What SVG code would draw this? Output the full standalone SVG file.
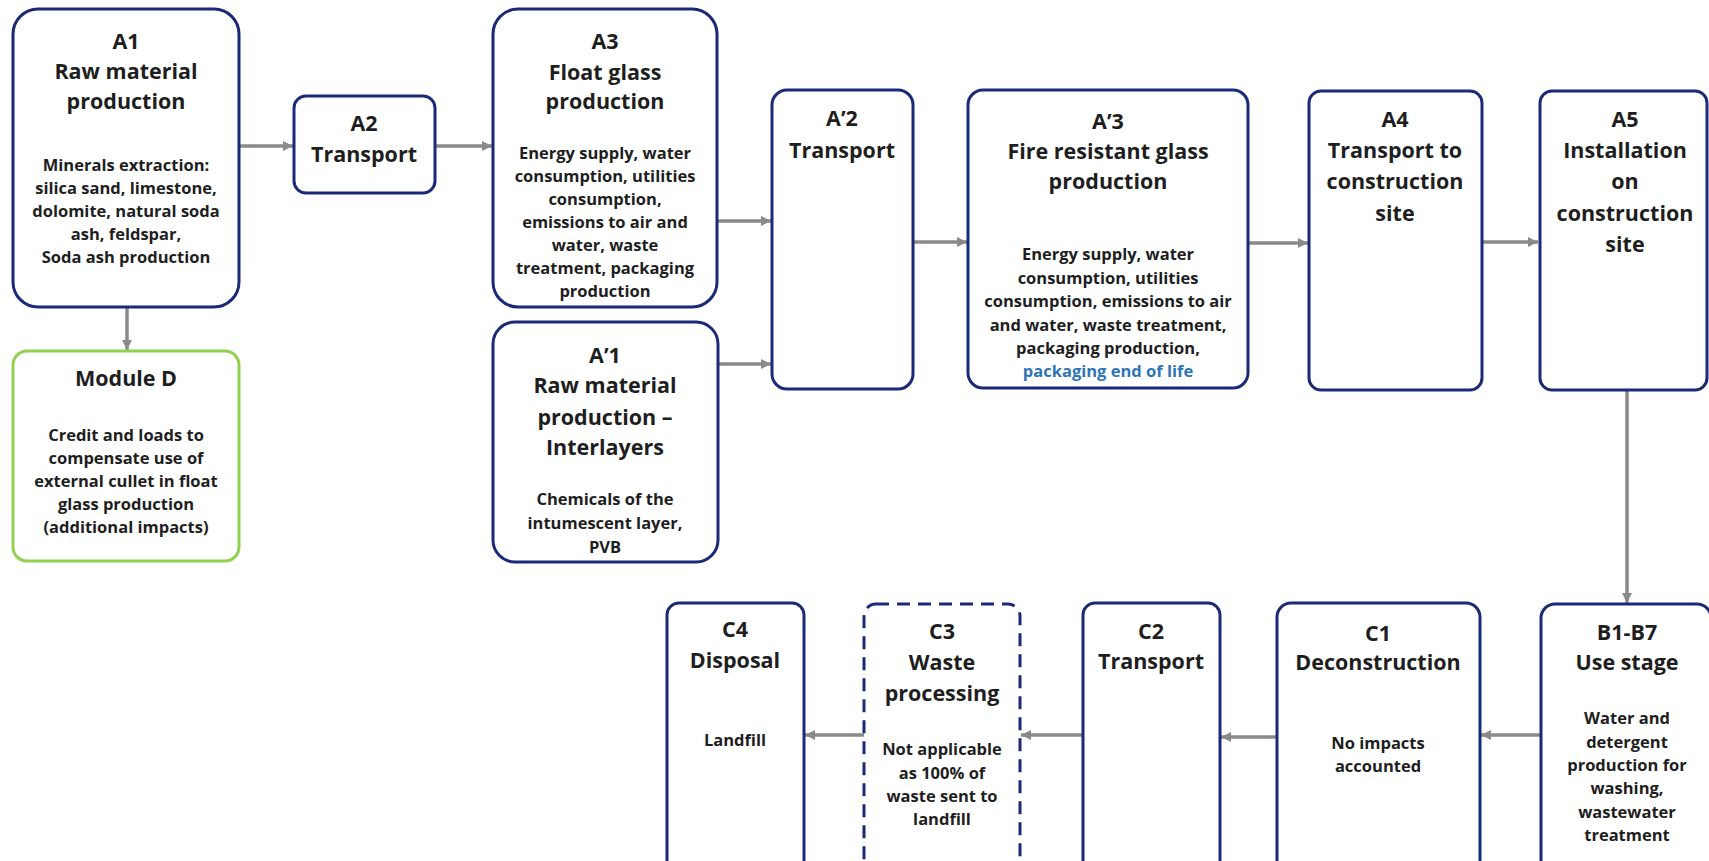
<svg xmlns="http://www.w3.org/2000/svg" width="1709" height="861" viewBox="0 0 1709 861">
<style>
.box{fill:#fff;stroke:#1B2A78;stroke-width:3}
.green{fill:#fff;stroke:#92D050;stroke-width:3}
.dash{fill:#fff;stroke:#1B2A78;stroke-width:3;stroke-dasharray:13 8}
text{font-family:"Open Sans","Noto Sans","Liberation Sans",sans-serif;font-weight:bold;fill:#1e1e1e;text-anchor:middle}
.t{font-size:21.5px}
.b{font-size:16.5px}
.blue{fill:#2E75B6}
.c line{stroke:#8A8A8A;stroke-width:3.5;marker-end:url(#ah)}
</style>
<defs>
<marker id="ah" markerUnits="userSpaceOnUse" markerWidth="12" markerHeight="12" refX="10" refY="5" orient="auto">
<path d="M0,0 L10,5 L0,10 Z" fill="#8A8A8A"/>
</marker>
</defs>
<rect width="1709" height="861" fill="#fff"/>
<g id="connectors" class="c">
<line x1="239" y1="146" x2="293" y2="146"/>
<line x1="435" y1="146" x2="492" y2="146"/>
<line x1="717" y1="221" x2="771" y2="221"/>
<line x1="718" y1="364" x2="771" y2="364"/>
<line x1="913" y1="242" x2="967" y2="242"/>
<line x1="1248" y1="243" x2="1308" y2="243"/>
<line x1="1482" y1="242" x2="1538" y2="242"/>
<line x1="127" y1="307" x2="127" y2="350"/>
<line x1="1627" y1="390" x2="1627" y2="603"/>
<line x1="1541" y1="735" x2="1481" y2="735"/>
<line x1="1277" y1="737" x2="1221" y2="737"/>
<line x1="1083" y1="735" x2="1021" y2="735"/>
<line x1="864" y1="735" x2="805" y2="735"/>
</g>
<g id="A1">
<rect class="box" x="13" y="9" width="226" height="298" rx="25"/>
<text class="t" x="126" y="49">A1</text>
<text class="t" x="126" y="79">Raw material</text>
<text class="t" x="126" y="109">production</text>
<text class="b" x="126" y="171">Minerals extraction:</text>
<text class="b" x="126" y="194">silica sand, limestone,</text>
<text class="b" x="126" y="217">dolomite, natural soda</text>
<text class="b" x="126" y="240">ash, feldspar,</text>
<text class="b" x="126" y="263">Soda ash production</text>
</g>
<g id="A2">
<rect class="box" x="294" y="96" width="141" height="97" rx="12"/>
<text class="t" x="364" y="131">A2</text>
<text class="t" x="364" y="162">Transport</text>
</g>
<g id="A3">
<rect class="box" x="493" y="9" width="224" height="298" rx="25"/>
<text class="t" x="605" y="49">A3</text>
<text class="t" x="605" y="80">Float glass</text>
<text class="t" x="605" y="109">production</text>
<text class="b" x="605" y="159">Energy supply, water</text>
<text class="b" x="605" y="182">consumption, utilities</text>
<text class="b" x="605" y="205">consumption,</text>
<text class="b" x="605" y="228">emissions to air and</text>
<text class="b" x="605" y="251">water, waste</text>
<text class="b" x="605" y="274">treatment, packaging</text>
<text class="b" x="605" y="297">production</text>
</g>
<g id="A_1">
<rect class="box" x="493" y="322" width="225" height="240" rx="22"/>
<text class="t" x="605" y="363">A’1</text>
<text class="t" x="605" y="393">Raw material</text>
<text class="t" x="605" y="425">production –</text>
<text class="t" x="605" y="455">Interlayers</text>
<text class="b" x="605" y="505">Chemicals of the</text>
<text class="b" x="605" y="529">intumescent layer,</text>
<text class="b" x="605" y="553">PVB</text>
</g>
<g id="A_2">
<rect class="box" x="772" y="90" width="141" height="299" rx="15"/>
<text class="t" x="842" y="126">A’2</text>
<text class="t" x="842" y="158">Transport</text>
</g>
<g id="A_3">
<rect class="box" x="968" y="90" width="280" height="298" rx="15"/>
<text class="t" x="1108" y="129">A’3</text>
<text class="t" x="1108" y="159">Fire resistant glass</text>
<text class="t" x="1108" y="189">production</text>
<text class="b" x="1108" y="260">Energy supply, water</text>
<text class="b" x="1108" y="284">consumption, utilities</text>
<text class="b" x="1108" y="307">consumption, emissions to air</text>
<text class="b" x="1108" y="331">and water, waste treatment,</text>
<text class="b" x="1108" y="354">packaging production,</text>
<text class="b blue" x="1108" y="377">packaging end of life</text>
</g>
<g id="A4">
<rect class="box" x="1309" y="91" width="173" height="299" rx="12"/>
<text class="t" x="1395" y="127">A4</text>
<text class="t" x="1395" y="158">Transport to</text>
<text class="t" x="1395" y="189">construction</text>
<text class="t" x="1395" y="221">site</text>
</g>
<g id="A5">
<rect class="box" x="1540" y="91" width="167" height="299" rx="12"/>
<text class="t" x="1625" y="127">A5</text>
<text class="t" x="1625" y="158">Installation</text>
<text class="t" x="1625" y="189">on</text>
<text class="t" x="1625" y="221">construction</text>
<text class="t" x="1625" y="252">site</text>
</g>
<g id="ModuleD">
<rect class="green" x="13" y="351" width="226" height="210" rx="14"/>
<text class="t" x="126" y="386">Module D</text>
<text class="b" x="126" y="441">Credit and loads to</text>
<text class="b" x="126" y="464">compensate use of</text>
<text class="b" x="126" y="487">external cullet in float</text>
<text class="b" x="126" y="510">glass production</text>
<text class="b" x="126" y="533">(additional impacts)</text>
</g>
<g id="B1-B7">
<rect class="box" x="1541" y="604" width="170" height="290" rx="14"/>
<text class="t" x="1627" y="640">B1-B7</text>
<text class="t" x="1627" y="670">Use stage</text>
<text class="b" x="1627" y="724">Water and</text>
<text class="b" x="1627" y="748">detergent</text>
<text class="b" x="1627" y="771">production for</text>
<text class="b" x="1627" y="794">washing,</text>
<text class="b" x="1627" y="818">wastewater</text>
<text class="b" x="1627" y="841">treatment</text>
</g>
<g id="C1">
<rect class="box" x="1277" y="603" width="203" height="290" rx="14"/>
<text class="t" x="1378" y="641">C1</text>
<text class="t" x="1378" y="670">Deconstruction</text>
<text class="b" x="1378" y="749">No impacts</text>
<text class="b" x="1378" y="772">accounted</text>
</g>
<g id="C2">
<rect class="box" x="1083" y="603" width="137" height="290" rx="12"/>
<text class="t" x="1151" y="639">C2</text>
<text class="t" x="1151" y="669">Transport</text>
</g>
<g id="C3">
<rect class="dash" x="864" y="604" width="156" height="290" rx="12"/>
<text class="t" x="942" y="639">C3</text>
<text class="t" x="942" y="670">Waste</text>
<text class="t" x="942" y="701">processing</text>
<text class="b" x="942" y="755">Not applicable</text>
<text class="b" x="942" y="779">as 100% of</text>
<text class="b" x="942" y="802">waste sent to</text>
<text class="b" x="942" y="825">landfill</text>
</g>
<g id="C4">
<rect class="box" x="667" y="603" width="137" height="290" rx="12"/>
<text class="t" x="735" y="637">C4</text>
<text class="t" x="735" y="668">Disposal</text>
<text class="b" x="735" y="746">Landfill</text>
</g>
</svg>
